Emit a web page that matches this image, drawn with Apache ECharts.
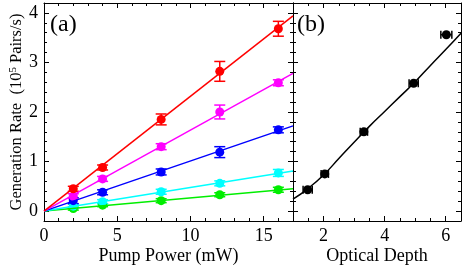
<!DOCTYPE html>
<html>
<head>
<meta charset="utf-8">
<script src="https://cdn.jsdelivr.net/npm/echarts@6/dist/echarts.min.js"></script>
<style>html,body{margin:0;padding:0;background:#fff}#c{width:464px;height:269px}</style>
</head>
<body>
<div id="c"></div>
<script>
// ---- data ----
const pumpX = [2, 4, 8, 12, 16];
const redY = [0.45, 0.88, 1.85, 2.82, 3.68];
const redErr = [0.05, 0.05, 0.11, 0.20, 0.15];
const magentaY = [0.30, 0.65, 1.30, 2.00, 2.59];
const magentaErr = [0.05, 0.05, 0.06, 0.14, 0.06];
const blueY = [0.21, 0.38, 0.79, 1.19, 1.64];
const blueErr = [0.06, 0.05, 0.06, 0.11, 0.06];
const cyanY = [0.10, 0.19, 0.39, 0.56, 0.77];
const cyanErr = [0.04, 0.04, 0.05, 0.05, 0.07];
const greenY = [0.05, 0.12, 0.21, 0.33, 0.43];
const greenErr = [0.03, 0.03, 0.04, 0.04, 0.05];

const fitX = [0, 17];
const redFit = [0, 3.94];
const magentaFit = [0, 2.78];
const blueFit = [0, 1.72];
const cyanFit = [0, 0.81];
const greenFit = [0, 0.45];

const depthX = [1.48, 2.04, 3.32, 4.95, 6.02];
const depthY = [0.43, 0.75, 1.60, 2.58, 3.56];
const depthErr = [0.15, 0.12, 0.12, 0.15, 0.18];
const curveX = [1, 1.5, 2, 2.5, 3, 3.5, 4, 4.5, 5, 5.5, 6, 6.5];
const curveY = [0.24, 0.46, 0.73, 1.06, 1.39, 1.71, 2.01, 2.31, 2.61, 2.94, 3.26, 3.59];

const xLabelA = 'Pump Power (mW)';
const xLabelB = 'Optical Depth';
const panelA = '(a)';
const panelB = '(b)';

// ---- chart ----
const FONT = "'Liberation Serif', 'Times New Roman', serif";
const chart = echarts.init(document.getElementById('c'), null, {renderer: 'canvas'});

function intLabel(v) {
  return Math.abs(v - Math.round(v)) < 1e-6 ? String(Math.round(v)) : '';
}
function evenLabel(v) {
  const r = Math.round(v);
  return (Math.abs(v - r) < 1e-6 && r % 2 === 0) ? String(r) : '';
}

function baseAxis(o) {
  return Object.assign({
    type: 'value',
    axisLine: {show: true, onZero: false, lineStyle: {color: '#000', width: 1}},
    axisTick: {show: true, inside: true, length: 5, lineStyle: {color: '#000', width: 1}},
    minorTick: {show: true, length: 3, lineStyle: {color: '#000', width: 1}},
    splitLine: {show: false},
    axisLabel: {show: false}
  }, o);
}
function labelStyle(extra) {
  return Object.assign({show: true, color: '#000', fontSize: 18, fontFamily: FONT}, extra);
}

const xAxes = [
  baseAxis({gridIndex: 0, position: 'bottom', min: 0, max: 17, interval: 5,
    minorTick: {show: true, splitNumber: 5, length: 3, lineStyle: {color: '#000'}},
    axisLabel: labelStyle({margin: 6, formatter: intLabel, showMaxLabel: false}),
    name: xLabelA, nameLocation: 'middle', nameGap: 26, nameMoveOverlap: false,
    nameTextStyle: {color: '#000', fontSize: 18, fontFamily: FONT}}),
  baseAxis({gridIndex: 0, position: 'top', min: 0, max: 17, interval: 5,
    minorTick: {show: true, splitNumber: 5, length: 3, lineStyle: {color: '#000'}}}),
  baseAxis({gridIndex: 1, position: 'bottom', min: 1, max: 6.5, splitNumber: 3,
    minorTick: {show: true, splitNumber: 4, length: 3, lineStyle: {color: '#000'}},
    axisLabel: labelStyle({margin: 6, formatter: evenLabel}),
    name: xLabelB, nameLocation: 'middle', nameGap: 26, nameMoveOverlap: false,
    nameTextStyle: {color: '#000', fontSize: 18, fontFamily: FONT}}),
  baseAxis({gridIndex: 1, position: 'top', min: 1, max: 6.5, splitNumber: 3,
    minorTick: {show: true, splitNumber: 4, length: 3, lineStyle: {color: '#000'}}})
];

function yAx(grid, pos, withLabel) {
  const o = baseAxis({gridIndex: grid, position: pos, min: -0.2, max: 4.2, splitNumber: 5,
    minorTick: {show: true, splitNumber: 5, length: 3, lineStyle: {color: '#000'}}});
  if (withLabel) {
    o.axisLabel = labelStyle({margin: 6, formatter: intLabel});
    o.name = '{a|Generation Rate  (10}{s|5}{a| Pairs/s)}';
    o.nameLocation = 'middle';
    o.nameGap = 19;
    o.nameMoveOverlap = false;
    o.nameRotate = 90;
    o.nameTextStyle = {
      color: '#000', fontFamily: FONT, fontSize: 16.5,
      rich: {
        a: {fontSize: 16.5, fontFamily: FONT, color: '#000'},
        s: {fontSize: 11, fontFamily: FONT, color: '#000', verticalAlign: 'top', padding: [0, 0, 6, 0]}
      }
    };
  }
  return o;
}
const yAxes = [yAx(0, 'left', true), yAx(0, 'right', false), yAx(1, 'left', false), yAx(1, 'right', false)];

function vErr(params, api) {
  const x = api.value(0), lo = api.value(1), hi = api.value(2);
  const a = api.coord([x, lo]), b = api.coord([x, hi]);
  const hw = 5.5;
  const col = api.visual('color');
  const st = () => ({stroke: col, lineWidth: 1.5});
  return {type: 'group', children: [
    {type: 'line', shape: {x1: a[0], y1: a[1], x2: b[0], y2: b[1]}, style: st()},
    {type: 'line', shape: {x1: a[0] - hw, y1: a[1], x2: a[0] + hw, y2: a[1]}, style: st()},
    {type: 'line', shape: {x1: b[0] - hw, y1: b[1], x2: b[0] + hw, y2: b[1]}, style: st()}
  ]};
}
function hErr(params, api) {
  const y = api.value(0), lo = api.value(1), hi = api.value(2);
  const a = api.coord([lo, y]), b = api.coord([hi, y]);
  const hh = 4;
  const col = api.visual('color');
  const st = () => ({stroke: col, lineWidth: 1.5});
  return {type: 'group', children: [
    {type: 'line', shape: {x1: a[0], y1: a[1], x2: b[0], y2: b[1]}, style: st()},
    {type: 'line', shape: {x1: a[0], y1: a[1] - hh, x2: a[0], y2: a[1] + hh}, style: st()},
    {type: 'line', shape: {x1: b[0], y1: b[1] - hh, x2: b[0], y2: b[1] + hh}, style: st()}
  ]};
}

const groups = [
  ['#ff0000', redY, redErr, redFit],
  ['#ff00ff', magentaY, magentaErr, magentaFit],
  ['#0000ff', blueY, blueErr, blueFit],
  ['#00ffff', cyanY, cyanErr, cyanFit],
  ['#00ee00', greenY, greenErr, greenFit]
];

const series = [];
groups.slice().reverse().forEach(([col, ys, errs, fit]) => {
  series.push({type: 'line', xAxisIndex: 0, yAxisIndex: 0, showSymbol: false, silent: true,
    data: fitX.map((x, i) => [x, fit[i]]), lineStyle: {color: col, width: 1.5}, itemStyle: {color: col}});
});
groups.slice().reverse().forEach(([col, ys, errs]) => {
  series.push({type: 'custom', xAxisIndex: 0, yAxisIndex: 0, renderItem: vErr,
    itemStyle: {color: col}, encode: {x: 0, y: [1, 2]},
    data: pumpX.map((x, i) => [x, ys[i] - errs[i], ys[i] + errs[i]])});
  series.push({type: 'scatter', xAxisIndex: 0, yAxisIndex: 0, symbol: 'circle', symbolSize: 9,
    itemStyle: {color: col, opacity: 1}, data: pumpX.map((x, i) => [x, ys[i]])});
});
series.push({type: 'line', xAxisIndex: 2, yAxisIndex: 2, showSymbol: false, smooth: true, silent: true,
  data: curveX.map((x, i) => [x, curveY[i]]), lineStyle: {color: '#000', width: 1.5}});
series.push({type: 'custom', xAxisIndex: 2, yAxisIndex: 2, renderItem: hErr, itemStyle: {color: '#000'},
  encode: {y: 0, x: [1, 2]},
  data: depthX.map((x, i) => [depthY[i], x - depthErr[i], x + depthErr[i]])});
series.push({type: 'scatter', xAxisIndex: 2, yAxisIndex: 2, symbol: 'circle', symbolSize: 9,
  itemStyle: {color: '#000', opacity: 1}, data: depthX.map((x, i) => [x, depthY[i]])});

chart.setOption({
  animation: false,
  backgroundColor: '#fff',
  title: [
    {text: panelA, left: 50, top: 13, padding: 0, textStyle: {fontFamily: FONT, fontSize: 24, fontWeight: 'normal', color: '#000'}},
    {text: panelB, left: 297, top: 13, padding: 0, textStyle: {fontFamily: FONT, fontSize: 24, fontWeight: 'normal', color: '#000'}}
  ],
  grid: [
    {left: 44, top: 3, width: 249, height: 218, outerBoundsMode: 'none', containLabel: false},
    {left: 293, top: 3, width: 168, height: 218, outerBoundsMode: 'none', containLabel: false}
  ],
  xAxis: xAxes,
  yAxis: yAxes,
  series: series
});
</script>
</body>
</html>
